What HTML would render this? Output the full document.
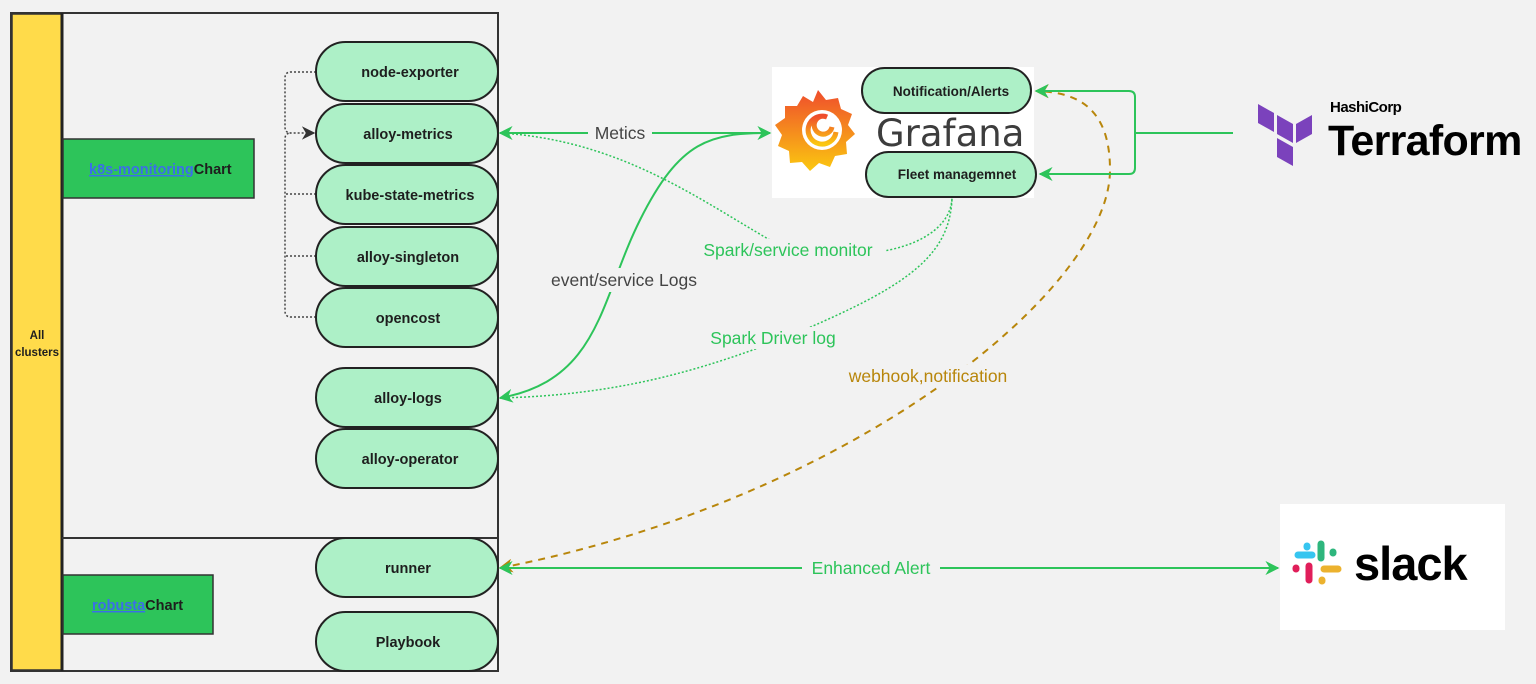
<!DOCTYPE html>
<html><head><meta charset="utf-8"><style>
body{margin:0;background:#f2f2f2;}
svg{display:block;font-family:"Liberation Sans","DejaVu Sans",sans-serif;}
.pill{fill:#adf0c7;stroke:#222;stroke-width:2;}
.pt{font-weight:bold;font-size:14.5px;fill:#1e1e1e;text-anchor:middle;}
</style></head><body>
<svg width="1536" height="684" viewBox="0 0 1536 684" xmlns="http://www.w3.org/2000/svg">
<defs>
<marker id="ag" viewBox="0 0 10 10" refX="9" refY="5" markerWidth="7" markerHeight="7" orient="auto-start-reverse"><path d="M0,0 L10,5 L0,10 L3,5z" fill="#2dc45a"/></marker>
<marker id="ab" viewBox="0 0 10 10" refX="9" refY="5" markerWidth="7" markerHeight="7" orient="auto-start-reverse"><path d="M0,0 L10,5 L0,10 L3,5z" fill="#b8860b"/></marker>
<marker id="ak" viewBox="0 0 10 10" refX="9" refY="5" markerWidth="9" markerHeight="9" orient="auto"><path d="M0,0 L10,5 L0,10 L3,5z" fill="#333"/></marker>
<linearGradient id="gf" x1="0" y1="0" x2="0" y2="1"><stop offset="0" stop-color="#ef4d2c"/><stop offset="1" stop-color="#fbc810"/></linearGradient>
</defs>
<rect x="11" y="13" width="487" height="658" fill="#f2f2f2" stroke="#333" stroke-width="2"/>
<rect x="12" y="14" width="50" height="656" fill="#ffdb4a" stroke="#333" stroke-width="1.5"/>
<line x1="62" y1="13" x2="62" y2="671" stroke="#222" stroke-width="3"/>
<line x1="62" y1="538" x2="498" y2="538" stroke="#333" stroke-width="2"/>
<text x="37" y="339" font-size="11.5" font-weight="bold" text-anchor="middle" fill="#1e1e1e">All</text>
<text x="37" y="356" font-size="11.5" font-weight="bold" text-anchor="middle" fill="#1e1e1e">clusters</text>
<rect x="63" y="139" width="191" height="59" fill="#2dc45a" stroke="#333" stroke-width="1.5"/>
<text x="89" y="174" font-size="14.5" font-weight="bold"><tspan fill="#3b6ee8" text-decoration="underline">k8s-monitoring</tspan><tspan fill="#1e1e1e">Chart</tspan></text>
<rect x="63" y="575" width="150" height="59" fill="#2dc45a" stroke="#333" stroke-width="1.5"/>
<text x="92" y="610" font-size="14.5" font-weight="bold"><tspan fill="#3b6ee8" text-decoration="underline">robusta</tspan><tspan fill="#1e1e1e">Chart</tspan></text>
<g fill="none" stroke="#444" stroke-width="1.5" stroke-dasharray="2,2">
<path d="M316,72 H291 Q285,72 285,78 V127 Q285,133 291,133 H314" marker-end="url(#ak)"/>
<path d="M316,317 H291 Q285,317 285,311 V139 Q285,133 291,133"/>
<path d="M316,194 H285 M316,256 H285"/>
</g>
<rect class="pill" x="316" y="42" width="182" height="59" rx="29.5"/><text class="pt" x="410" y="77">node-exporter</text>
<rect class="pill" x="316" y="104" width="182" height="59" rx="29.5"/><text class="pt" x="408" y="139">alloy-metrics</text>
<rect class="pill" x="316" y="165" width="182" height="59" rx="29.5"/><text class="pt" x="410" y="200">kube-state-metrics</text>
<rect class="pill" x="316" y="227" width="182" height="59" rx="29.5"/><text class="pt" x="408" y="262">alloy-singleton</text>
<rect class="pill" x="316" y="288" width="182" height="59" rx="29.5"/><text class="pt" x="408" y="323">opencost</text>
<rect class="pill" x="316" y="368" width="182" height="59" rx="29.5"/><text class="pt" x="408" y="403">alloy-logs</text>
<rect class="pill" x="316" y="429" width="182" height="59" rx="29.5"/><text class="pt" x="410" y="464">alloy-operator</text>
<rect class="pill" x="316" y="538" width="182" height="59" rx="29.5"/><text class="pt" x="408" y="573">runner</text>
<rect class="pill" x="316" y="612" width="182" height="59" rx="29.5"/><text class="pt" x="408" y="647">Playbook</text>
<rect x="772" y="67" width="262" height="131" fill="#fff"/>
<path d="M818,90 l8,10 12,-2 3,11 11,5 -4,11 7,9 -9,8 1,12 -12,2 -5,11 -11,-4 -9,8 -8,-9 -12,1 -1,-12 -11,-5 4,-11 -7,-10 10,-7 0,-12 12,0 6,-10 10,6z" fill="url(#gf)"/>
<circle cx="822" cy="130" r="20" fill="#fff"/>
<path d="M836,132 a14,14 0 1 1 -9,-15 a9,9 0 1 0 5,10" fill="none" stroke="url(#gf)" stroke-width="5"/>
<text x="876" y="146" font-size="37" fill="#3d3d3d" font-family="'DejaVu Sans','Liberation Sans',sans-serif">Grafana</text>
<rect class="pill" x="862" y="68" width="169" height="45" rx="22.5"/><text class="pt" x="951" y="96" style="font-size:13.5px">Notification/Alerts</text>
<rect class="pill" x="866" y="152" width="170" height="45" rx="22.5"/><text class="pt" x="957" y="179" style="font-size:13.5px">Fleet managemnet</text>
<g fill="#7b42bc"><path d="M1258,104 l16,9 v19 l-16,-9z"/><path d="M1277,115 l16,9 v19 l-16,-9z"/><path d="M1296,124 l16,-9 v19 l-16,9z"/><path d="M1277,138 l16,9 v19 l-16,-9z"/></g>
<text x="1330" y="112" font-size="15" fill="#000" font-weight="bold" style="letter-spacing:-0.5px">HashiCorp</text>
<text x="1328" y="155" font-size="43" fill="#000" font-weight="bold" style="letter-spacing:-0.7px">Terraform</text>
<rect x="1280" y="504" width="225" height="126" fill="#fff"/>
<g stroke-linecap="round" stroke-width="7">
<line x1="1307" y1="546" x2="1307" y2="547" stroke="#36c5f0"/><line x1="1298" y1="555" x2="1312" y2="555" stroke="#36c5f0"/>
<line x1="1321" y1="544" x2="1321" y2="558" stroke="#2eb67d"/><line x1="1333" y1="552" x2="1333" y2="553" stroke="#2eb67d"/>
<line x1="1324" y1="569" x2="1338" y2="569" stroke="#ecb22e"/><line x1="1322" y1="580" x2="1322" y2="581" stroke="#ecb22e"/>
<line x1="1296" y1="568" x2="1296" y2="569" stroke="#e01e5a"/><line x1="1309" y1="566" x2="1309" y2="580" stroke="#e01e5a"/>
</g>
<text x="1354" y="580" font-size="47" font-weight="bold" fill="#000" style="letter-spacing:-1px">slack</text>
<g fill="none">
<path d="M500,133 H770" stroke="#2dc45a" stroke-width="2" marker-start="url(#ag)" marker-end="url(#ag)"/>
<path d="M500,398 C600,380 600,300 640,220 C680,140 710,133 770,133" stroke="#2dc45a" stroke-width="2" marker-start="url(#ag)"/>
<path d="M500,133 C620,140 700,200 770,240 C850,270 950,250 952,198" stroke="#2dc45a" stroke-width="1.5" stroke-dasharray="2,2"/>
<path d="M500,398 C620,395 700,370 780,340 C900,290 950,260 952,198" stroke="#2dc45a" stroke-width="1.5" stroke-dasharray="2,2"/>
<path d="M500,568 C850,500 1110,290 1110,170 C1110,110 1080,92 1036,91" stroke="#b8860b" stroke-width="2" stroke-dasharray="7,6" marker-start="url(#ab)" marker-end="url(#ab)"/>
<path d="M500,568 H1278" stroke="#2dc45a" stroke-width="2" marker-start="url(#ag)" marker-end="url(#ag)"/>
<path d="M1233,133 H1135 V97 Q1135,91 1129,91 H1036" stroke="#2dc45a" stroke-width="2" marker-end="url(#ag)"/>
<path d="M1135,133 V168 Q1135,174 1129,174 H1040" stroke="#2dc45a" stroke-width="2" marker-end="url(#ag)"/>
</g>
<rect x="588" y="122" width="64" height="22" fill="#f2f2f2"/>
<text x="620" y="139" font-size="17.5" fill="#444" text-anchor="middle">Metics</text>
<rect x="542" y="268" width="166" height="24" fill="#f2f2f2"/>
<text x="624" y="286" font-size="17.5" fill="#444" text-anchor="middle">event/service Logs</text>
<rect x="692" y="239" width="194" height="22" fill="#f2f2f2"/>
<text x="788" y="256" font-size="17.5" fill="#2dc45a" text-anchor="middle">Spark/service monitor</text>
<rect x="702" y="327" width="144" height="22" fill="#f2f2f2"/>
<text x="773" y="344" font-size="17.5" fill="#2dc45a" text-anchor="middle">Spark Driver log</text>
<rect x="836" y="365" width="186" height="22" fill="#f2f2f2"/>
<text x="928" y="382" font-size="17.5" fill="#b8860b" text-anchor="middle">webhook,notification</text>
<rect x="802" y="557" width="138" height="22" fill="#f2f2f2"/>
<text x="871" y="574" font-size="17.5" fill="#2dc45a" text-anchor="middle">Enhanced Alert</text>
</svg>
</body></html>
